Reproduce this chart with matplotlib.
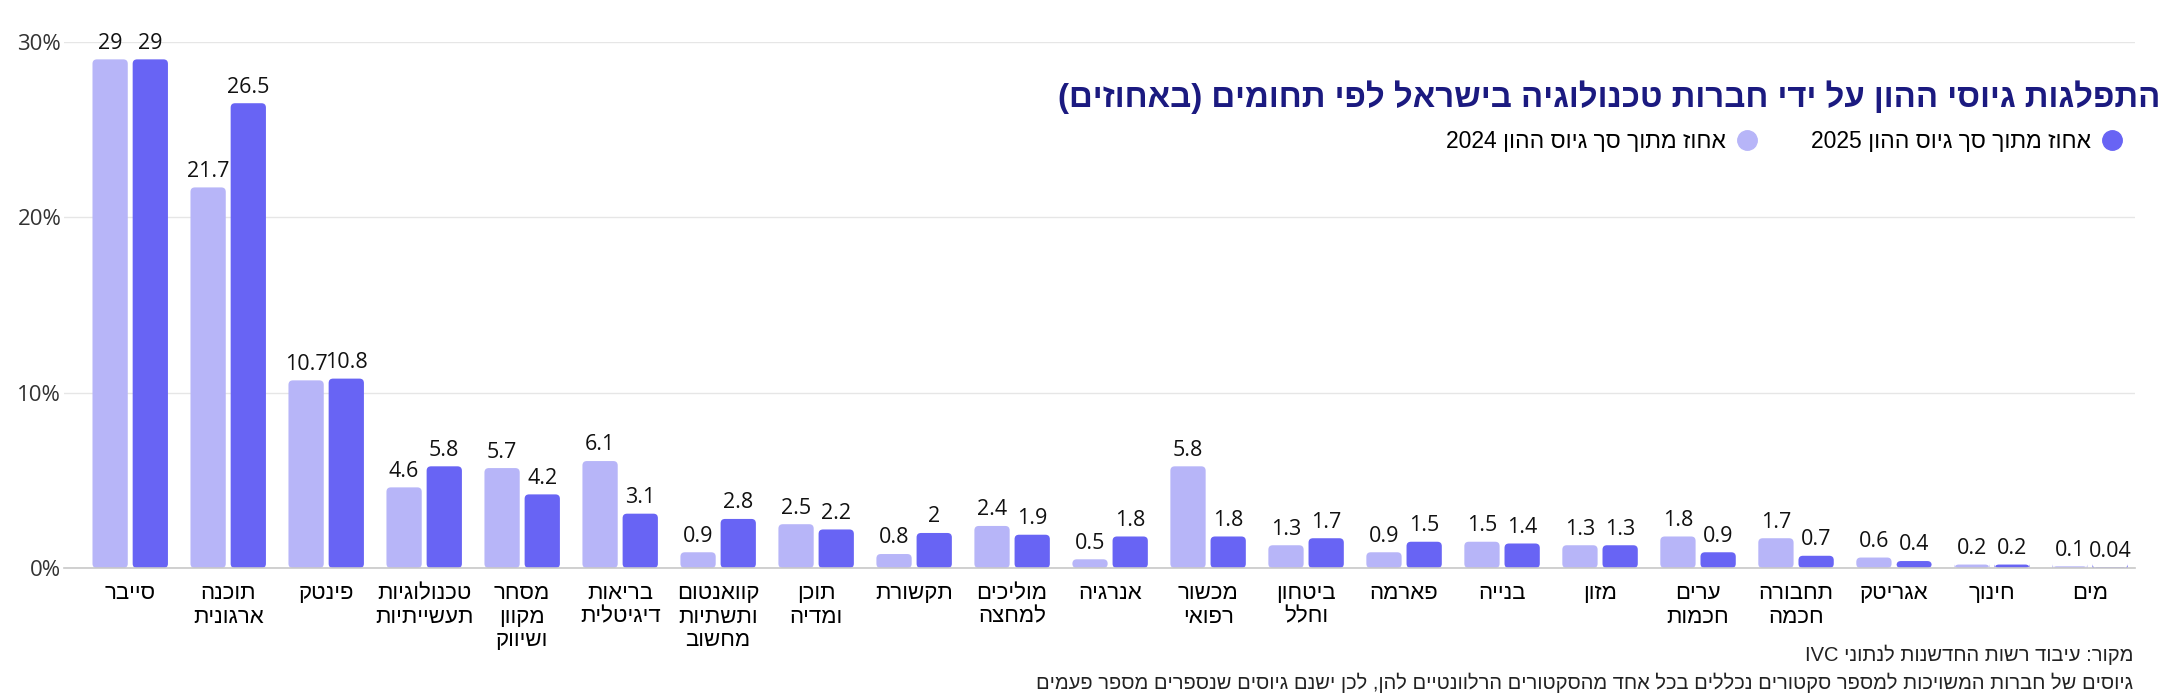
import re
import matplotlib
matplotlib.use("Agg")
import matplotlib.pyplot as plt
from matplotlib.lines import Line2D
from matplotlib.patches import FancyBboxPatch
from matplotlib import font_manager
import numpy as np

plt.rcParams['font.family'] = ['Liberation Sans', 'DejaVu Sans']

# data (left to right)
categories = [
    "סייבר", "תוכנה\nארגונית", "פינטק", "טכנולוגיות\nתעשייתיות",
    "מסחר\nמקוון\nושיווק", "בריאות\nדיגיטלית", "קוואנטום\nותשתיות\nמחשוב",
    "תוכן\nומדיה", "תקשורת", "מוליכים\nלמחצה", "אנרגיה", "מכשור\nרפואי",
    "ביטחון\nוחלל", "פארמה", "בנייה", "מזון", "ערים\nחכמות",
    "תחבורה\nחכמה", "אגריטק", "חינוך", "מים",
]
share_2024 = [29, 21.7, 10.7, 4.6, 5.7, 6.1, 0.9, 2.5, 0.8, 2.4, 0.5,
              5.8, 1.3, 0.9, 1.5, 1.3, 1.8, 1.7, 0.6, 0.2, 0.1]
share_2025 = [29, 26.5, 10.8, 5.8, 4.2, 3.1, 2.8, 2.2, 2, 1.9, 1.8,
              1.8, 1.7, 1.5, 1.4, 1.3, 0.9, 0.7, 0.4, 0.2, 0.04]
yticks = [0, 10, 20, 30]

title = "התפלגות גיוסי ההון על ידי חברות טכנולוגיה בישראל לפי תחומים (באחוזים)"
label_2024 = "אחוז מתוך סך גיוס ההון 2024"
label_2025 = "אחוז מתוך סך גיוס ההון 2025"
source = "מקור: עיבוד רשות החדשנות לנתוני IVC"
note = ("גיוסים של חברות המשויכות למספר סקטורים נכללים בכל אחד מהסקטורים "
        "הרלוונטיים להן, לכן ישנם גיוסים שנספרים מספר פעמים")

LIGHT = "#b7b5f8"
DARK = "#6864f4"
NAVY = "#1b1a80"


def rtl(s):
    # matplotlib has no bidi support: flip each line, keep digit/latin runs
    lines = []
    for line in s.split("\n"):
        rev = line[::-1]
        rev = re.sub(r"[0-9A-Za-z.%]+", lambda m: m.group(0)[::-1], rev)
        rev = rev.translate(str.maketrans("()", ")("))
        lines.append(rev)
    return "\n".join(lines)


names = {f.name for f in font_manager.fontManager.ttflist}
label_font = "Liberation Sans Narrow" if "Liberation Sans Narrow" in names else "Liberation Sans"
num_font = "Open Sans" if "Open Sans" in names else "DejaVu Sans"

fig = plt.figure(figsize=(21.72, 6.97), dpi=100)
ax = fig.add_axes([0.0295, 0.185, 0.9535, 0.755])

x = np.arange(len(categories))
w = 0.36
b1 = ax.bar(x - 0.205, share_2024, w, color=LIGHT)
b2 = ax.bar(x + 0.205, share_2025, w, color=DARK)

ax.set_xlim(-0.675, 20.46)
ax.set_ylim(0, 30)

# swap the plain rectangles for slightly rounded ones
aspect = (30 / (0.755 * 697)) / (21.135 / (0.9535 * 2172))
for cont in (b1, b2):
    for r in cont.patches:
        r.set_visible(False)
        ax.add_patch(FancyBboxPatch((r.get_x(), r.get_y()), r.get_width(), r.get_height(),
                                    boxstyle="round,pad=0,rounding_size=0.045",
                                    mutation_aspect=aspect, fc=r.get_facecolor(),
                                    ec="none"))

for cont, vals in ((b1, share_2024), (b2, share_2025)):
    ax.bar_label(cont, labels=[f"{v:g}" for v in vals], padding=4,
                 fontsize=15.5, family=num_font, color="#111111")

ax.set_yticks(yticks, [f"{t}%" for t in yticks])
ax.set_xticks(x, [rtl(c) for c in categories])
for t in ax.get_xticklabels():
    t.set_fontfamily(label_font)
    t.set_fontsize(16)
    t.set_linespacing(1.15)
    t.set_va("top")
for t in ax.get_yticklabels():
    t.set_fontfamily(num_font)
    t.set_fontsize(16)
    t.set_color("#333333")
ax.tick_params(axis="both", length=0)
ax.tick_params(axis="x", pad=11)
ax.tick_params(axis="y", pad=2)

ax.grid(axis="y", color="#e6e6e6", lw=1)
ax.set_axisbelow(True)
for s in ("top", "right", "left"):
    ax.spines[s].set_visible(False)
ax.spines["bottom"].set_color("#c8c8c8")
ax.spines["bottom"].set_linewidth(1.2)

fig.text(0.9945, 0.861, rtl(title), ha="right", va="center", fontsize=23.8,
         fontweight="bold", color=NAVY)

handles = [
    Line2D([], [], ls="none", marker="o", ms=14, color=LIGHT),
    Line2D([], [], ls="none", marker="o", ms=14, color=DARK),
]
fig.legend(handles, [rtl(label_2024), rtl(label_2025)], ncol=2,
           markerfirst=False, frameon=False, fontsize=16.5,
           loc="center right", bbox_to_anchor=(0.987, 0.797),
           columnspacing=2.3, handletextpad=0.4, handlelength=1.0)

fig.text(0.982, 0.06, rtl(source), ha="right", va="center", fontsize=14.5,
         family=label_font, color="#222222")
fig.text(0.982, 0.02, rtl(note), ha="right", va="center", fontsize=14.5,
         family=label_font, color="#222222")

fig.savefig("out.png", dpi=100)
